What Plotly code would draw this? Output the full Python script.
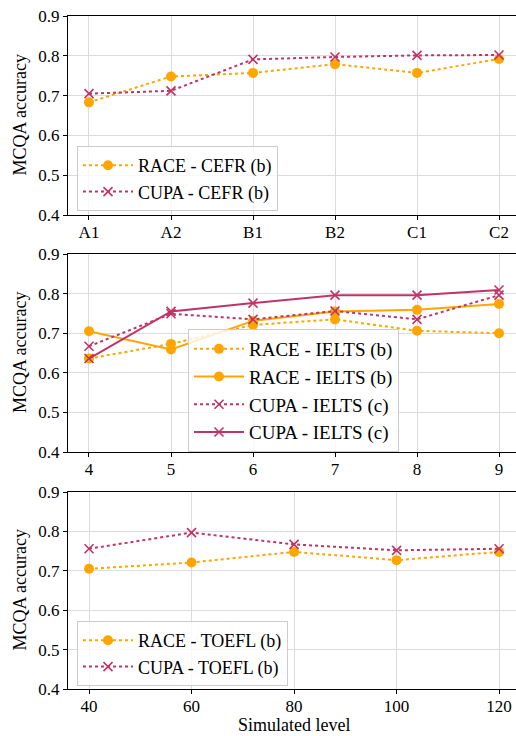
import plotly.graph_objects as go

ORANGE = "#FFA500"
CRIMSON = "#BF3466"
FONT = "Liberation Serif"

cefr_levels = ["A1", "A2", "B1", "B2", "C1", "C2"]
race_cefr_b = [0.683, 0.748, 0.757, 0.779, 0.757, 0.792]
cupa_cefr_b = [0.705, 0.712, 0.791, 0.797, 0.801, 0.802]

ielts_levels = [4, 5, 6, 7, 8, 9]
race_ielts_b_dot = [0.636, 0.673, 0.721, 0.735, 0.706, 0.700]
race_ielts_b_solid = [0.705, 0.659, 0.731, 0.755, 0.759, 0.774]
cupa_ielts_c_dot = [0.667, 0.749, 0.735, 0.756, 0.735, 0.796]
cupa_ielts_c_solid = [0.636, 0.755, 0.776, 0.796, 0.796, 0.809]

toefl_levels = [40, 60, 80, 100, 120]
race_toefl_b = [0.705, 0.721, 0.748, 0.727, 0.748]
cupa_toefl_b = [0.756, 0.797, 0.767, 0.752, 0.756]

W, H = 516, 736
L = 68

fig = go.Figure()


def add(x, y, name, color, dash, symbol, xa, ya, legend):
    if symbol == "circle":
        marker = dict(symbol="circle", size=10, color=color)
    else:
        marker = dict(symbol="x-thin", size=9, color=color,
                      line=dict(color=color, width=1.6))
    fig.add_trace(go.Scatter(
        x=x, y=y, name=name, mode="lines+markers",
        line=dict(color=color, width=2, dash=dash),
        marker=marker, xaxis=xa, yaxis=ya, legend=legend))


add(cefr_levels, race_cefr_b, "RACE - CEFR (b)", ORANGE, "dot", "circle", "x", "y", "legend")
add(cefr_levels, cupa_cefr_b, "CUPA - CEFR (b)", CRIMSON, "dot", "x", "x", "y", "legend")

add(ielts_levels, race_ielts_b_dot, "RACE - IELTS (b)", ORANGE, "dot", "circle", "x2", "y2", "legend2")
add(ielts_levels, race_ielts_b_solid, "RACE - IELTS (b)", ORANGE, "solid", "circle", "x2", "y2", "legend2")
add(ielts_levels, cupa_ielts_c_dot, "CUPA - IELTS (c)", CRIMSON, "dot", "x", "x2", "y2", "legend2")
add(ielts_levels, cupa_ielts_c_solid, "CUPA - IELTS (c)", CRIMSON, "solid", "x", "x2", "y2", "legend2")

add(toefl_levels, race_toefl_b, "RACE - TOEFL (b)", ORANGE, "dot", "circle", "x3", "y3", "legend3")
add(toefl_levels, cupa_toefl_b, "CUPA - TOEFL (b)", CRIMSON, "dot", "x", "x3", "y3", "legend3")


def py(px):
    return 1 - px / H


def pxx(px):
    return (px - L) / (W - L)


tickfont = dict(family=FONT, size=17, color="black")
common_x = dict(showline=True, linecolor="black", linewidth=1.2, mirror=True,
                ticks="outside", ticklen=4, tickcolor="black",
                showgrid=True, gridcolor="#dcdcdc", gridwidth=1,
                tickfont=tickfont, zeroline=False, automargin=False,
                ticklabelstandoff=-3)
common_y = dict(showline=True, linecolor="black", linewidth=1.2,
                ticks="outside", ticklen=4, tickcolor="black",
                showgrid=True, gridcolor="#dcdcdc", gridwidth=1,
                tickfont=tickfont, zeroline=False, automargin=False,
                range=[0.4, 0.9], tickvals=[0.4, 0.5, 0.6, 0.7, 0.8, 0.9],
                ticktext=["0.4", "0.5", "0.6", "0.7", "0.8", "0.9"])

domains = [(py(215), py(16)), (py(452), py(254)), (py(689), py(492))]

fig.update_layout(
    width=W, height=H,
    margin=dict(l=L, r=0, t=0, b=0, autoexpand=False),
    plot_bgcolor="white", paper_bgcolor="white",
    font=dict(family=FONT, size=16, color="black"),
    xaxis=dict(common_x, anchor="y", domain=[0, 1], type="category",
               range=[-0.256, 5.207]),
    yaxis=dict(common_y, anchor="x", domain=list(domains[0])),
    xaxis2=dict(common_x, anchor="y2", domain=[0, 1],
                range=[4 - 0.256, 9 + 0.207], tickvals=ielts_levels),
    yaxis2=dict(common_y, anchor="x2", domain=list(domains[1])),
    xaxis3=dict(common_x, anchor="y3", domain=[0, 1],
                range=[40 - 4.1, 120 + 3.3], tickvals=toefl_levels),
    yaxis3=dict(common_y, anchor="x3", domain=list(domains[2])),
)

legend_style = dict(bgcolor="rgba(255,255,255,0.8)", bordercolor="#cccccc",
                    borderwidth=1, xanchor="left", yanchor="top",
                    tracegroupgap=0, itemwidth=50)
fig.update_layout(
    legend=dict(legend_style, x=pxx(77), y=py(146),
                font=dict(family=FONT, size=18, color="black")),
    legend2=dict(legend_style, x=pxx(188), y=py(329),
                 font=dict(family=FONT, size=19, color="black")),
    legend3=dict(legend_style, x=pxx(77), y=py(621),
                 font=dict(family=FONT, size=18, color="black")),
)

for d in domains:
    fig.add_annotation(text="MCQA accuracy", xref="paper", yref="paper",
                       x=pxx(20), y=(d[0] + d[1]) / 2, textangle=-90,
                       showarrow=False, xanchor="center", yanchor="middle",
                       font=dict(family=FONT, size=18, color="black"))

fig.add_annotation(text="Simulated level", xref="paper", yref="paper",
                   x=pxx(294), y=py(725), showarrow=False,
                   xanchor="center", yanchor="middle",
                   font=dict(family=FONT, size=18, color="black"))

fig.write_html("out.html")
